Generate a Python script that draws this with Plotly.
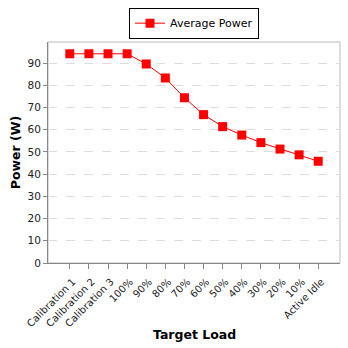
import plotly.graph_objects as go

categories = ["Calibration 1", "Calibration 2", "Calibration 3", "100%", "90%", "80%",
              "70%", "60%", "50%", "40%", "30%", "20%", "10%", "Active Idle"]
avg_power = [94.2, 94.2, 94.2, 94.2, 89.6, 83.3, 74.4, 66.8, 61.4, 57.6, 54.2, 51.3, 48.7, 45.8]
y_ticks = [0, 10, 20, 30, 40, 50, 60, 70, 80, 90]

fig = go.Figure()
fig.add_trace(go.Scatter(
    x=list(range(len(categories))), y=avg_power, mode="lines+markers",
    name="Average Power",
    line=dict(color="#ff0000", width=1),
    marker=dict(symbol="square", size=9, color="#ff0000"),
))

fig.update_layout(
    width=348, height=348,
    margin=dict(l=48, r=8, t=27, b=85),
    paper_bgcolor="white", plot_bgcolor="white",
    font=dict(family="DejaVu Sans", size=10, color="#222222"),
    showlegend=True,
    legend=dict(orientation="v", x=0.5, xanchor="center", y=1.015, yanchor="bottom",
                bordercolor="black", borderwidth=1, bgcolor="white",
                font=dict(size=11, color="black"), itemwidth=30),
    xaxis=dict(
        tickmode="array", tickvals=list(range(len(categories))), ticktext=categories,
        range=[-1.14, 14.14], tickangle=-45, automargin=False,
        tickfont=dict(size=10), ticklabelstandoff=3, ticklabelshift=3,
        showline=True, linecolor="#888888", mirror=False,
        ticks="outside", ticklen=5, tickcolor="#888888",
        showgrid=False, zeroline=False,
    ),
    yaxis=dict(
        range=[0, 99.5], tickvals=y_ticks, automargin=False,
        tickfont=dict(size=10.5),
        showline=True, linecolor="#888888",
        ticks="outside", ticklen=4, tickcolor="#888888",
        showgrid=True, gridcolor="#dddddd", griddash="dash", gridwidth=1,
        zeroline=False,
        title=dict(text="<b>Power (W)</b>", font=dict(size=12.5, color="black"), standoff=4),
    ),
    annotations=[dict(text="<b>Target Load</b>", xref="paper", yref="paper",
                      x=0.5, y=-76/236, xanchor="center", yanchor="middle",
                      showarrow=False, font=dict(size=12.5, color="black"))],
    shapes=[dict(type="rect", xref="paper", yref="paper", x0=0, x1=1, y0=0, y1=1,
                 line=dict(color="#bbbbbb", width=1), layer="below")],
)

fig.write_html("out.html")
